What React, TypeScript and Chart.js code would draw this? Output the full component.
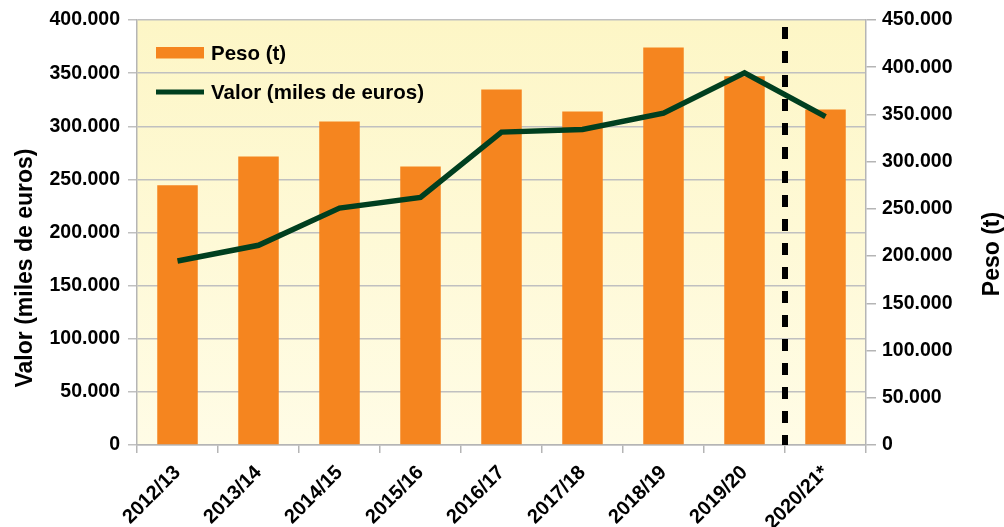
import React, { useEffect, useRef } from "react";
import { Chart, registerables } from "chart.js";

Chart.register(...registerables);

const categories = ["2012/13", "2013/14", "2014/15", "2015/16", "2016/17", "2017/18", "2018/19", "2019/20", "2020/21*"];
const pesoT = [275000, 305600, 342600, 295000, 376400, 353000, 420800, 390500, 355300];
const valorMilesEuros = [173200, 188000, 223000, 233000, 294500, 297000, 312300, 350300, 309000];
const valorAxisMax = 400000;
const pesoAxisMax = 450000;
const tickStep = 50000;
const seriesLabels = ["Peso (t)", "Valor (miles de euros)"];
const axisTitles = ["Valor (miles de euros)", "Peso (t)"];

const FONT = "'Liberation Sans', Arial, sans-serif";
const ORANGE = "#f5851f";
const GREEN = "#003f1f";
const GRID = "#c0c0c0";

const fmt = (v: number) => String(Math.round(v)).replace(/\B(?=(\d{3})+(?!\d))/g, ".");

const bgPlugin = {
  id: "bgPlugin",
  beforeDraw(chart: any) {
    const { ctx, chartArea: a } = chart;
    const g = ctx.createLinearGradient(0, a.top, 0, a.bottom);
    g.addColorStop(0, "#fdf6c6");
    g.addColorStop(1, "#fffce6");
    ctx.save();
    ctx.fillStyle = g;
    ctx.fillRect(a.left, a.top, a.right - a.left, a.bottom - a.top);
    ctx.restore();
  },
};

const dashPlugin = {
  id: "dashPlugin",
  afterDatasetsDraw(chart: any) {
    const { ctx, chartArea: a } = chart;
    const xs = chart.scales.x;
    const x = (xs.getPixelForValue(7) + xs.getPixelForValue(8)) / 2;
    ctx.save();
    ctx.strokeStyle = "#000";
    ctx.lineWidth = 6;
    ctx.setLineDash([12, 12]);
    ctx.lineDashOffset = 17;
    ctx.beginPath();
    ctx.moveTo(x, a.top);
    ctx.lineTo(x, a.bottom);
    ctx.stroke();
    ctx.restore();
  },
};

const textPlugin = {
  id: "textPlugin",
  afterDraw(chart: any) {
    const { ctx } = chart;
    ctx.save();
    // legend
    ctx.fillStyle = ORANGE;
    ctx.fillRect(156, 47, 48, 11.5);
    ctx.strokeStyle = GREEN;
    ctx.lineWidth = 5;
    ctx.beginPath();
    ctx.moveTo(156, 92);
    ctx.lineTo(204, 92);
    ctx.stroke();
    ctx.fillStyle = "#000";
    ctx.font = `bold 20.5px ${FONT}`;
    ctx.textAlign = "left";
    ctx.textBaseline = "alphabetic";
    ctx.fillText(seriesLabels[0], 211, 60);
    ctx.fillText(seriesLabels[1], 211, 98.5);
    // axis titles
    ctx.font = `bold 23px ${FONT}`;
    ctx.textAlign = "center";
    ctx.save();
    ctx.translate(32, 268);
    ctx.rotate(-Math.PI / 2);
    ctx.fillText(axisTitles[0], 0, 0);
    ctx.restore();
    ctx.save();
    ctx.translate(999, 254);
    ctx.rotate(-Math.PI / 2);
    ctx.fillText(axisTitles[1], 0, 0);
    ctx.restore();
    ctx.restore();
  },
};

export default function App() {
  const ref = useRef<HTMLCanvasElement>(null);
  useEffect(() => {
    if (!ref.current) return;
    const tickFont = { family: FONT, size: 19.5, weight: "bold" as const };
    const chart = new Chart(ref.current, {
      type: "bar",
      data: {
        labels: categories,
        datasets: [
          {
            type: "line",
            label: seriesLabels[1],
            data: valorMilesEuros,
            yAxisID: "yValor",
            borderColor: GREEN,
            backgroundColor: GREEN,
            borderWidth: 5.5,
            pointRadius: 0,
            tension: 0,
            order: 0,
          } as any,
          {
            type: "bar",
            label: seriesLabels[0],
            data: pesoT,
            yAxisID: "yPeso",
            backgroundColor: ORANGE,
            borderWidth: 0,
            barPercentage: 0.5,
            categoryPercentage: 1,
            order: 1,
          },
        ],
      },
      options: {
        responsive: false,
        animation: false,
        layout: { padding: { top: 20, left: 0, right: 0, bottom: 0 } },
        plugins: { legend: { display: false }, tooltip: { enabled: false } },
        scales: {
          x: {
            type: "category",
            offset: true,
            grid: { offset: true, drawOnChartArea: false, drawTicks: true, tickLength: 8, color: "#b5b5b5", lineWidth: 1.5 },
            border: { color: "#b5b5b5", width: 1.5 },
            ticks: { font: { family: FONT, size: 20, weight: "bold" as const }, color: "#000", minRotation: 45, maxRotation: 45, autoSkip: false, padding: 8 },
            afterFit: (s: any) => { s.height = 82; },
          },
          yValor: {
            type: "linear",
            position: "left",
            min: 0,
            max: valorAxisMax,
            ticks: { stepSize: tickStep, font: tickFont, color: "#000", padding: 8, callback: (v: any) => fmt(Number(v)) },
            grid: { color: GRID, lineWidth: 1.5, tickLength: 9 },
            border: { color: "#b5b5b5", width: 1.5 },
            afterFit: (s: any) => { s.width = 137; },
          },
          yPeso: {
            type: "linear",
            position: "right",
            min: 0,
            max: pesoAxisMax,
            ticks: { stepSize: tickStep, font: tickFont, color: "#000", padding: 6, callback: (v: any) => fmt(Number(v)) },
            grid: { drawOnChartArea: false, color: "#b5b5b5", lineWidth: 1.5, tickLength: 10 },
            border: { color: "#b5b5b5", width: 1.5 },
            afterFit: (s: any) => { s.width = 138; },
          },
        },
      },
      plugins: [bgPlugin, dashPlugin, textPlugin],
    });
    return () => chart.destroy();
  }, []);
  return (
    <div style={{ position: "fixed", left: 0, top: 0, width: 1004, height: 527, background: "#fff" }}>
      <canvas ref={ref} width={1004} height={527} style={{ width: 1004, height: 527, display: "block" }} />
    </div>
  );
}
